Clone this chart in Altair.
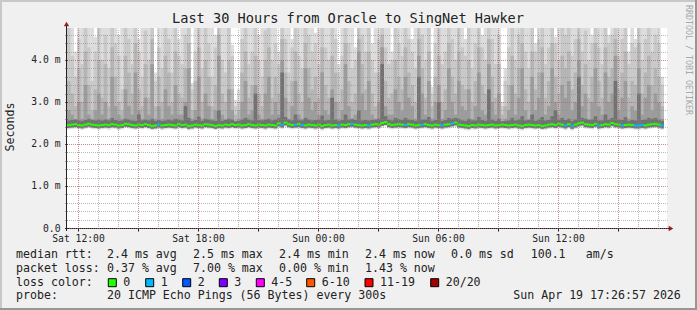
import altair as alt
import pandas as pd

# ---------------- data ----------------
start_h = 11 + 26 / 60 + 57 / 3600     # Sat 11:26:57 (hours since Sat 00:00)
step_h = 1 / 6                          # one column = 10 minutes
span_h = 30
y_top = 4.76                            # ms

median_ms = [
    2.45, 2.46, 2.47, 2.45, 2.44, 2.46, 2.48, 2.46, 2.45, 2.44,
    2.45, 2.46, 2.45, 2.47, 2.46, 2.44, 2.45, 2.48, 2.47, 2.45,
    2.44, 2.46, 2.45, 2.47, 2.45, 2.43, 2.44, 2.46, 2.44, 2.45,
    2.46, 2.45, 2.44, 2.47, 2.45, 2.46, 2.43, 2.44, 2.46, 2.45,
    2.44, 2.47, 2.46, 2.45, 2.43, 2.45, 2.44, 2.46, 2.45, 2.47,
    2.45, 2.46, 2.44, 2.45, 2.47, 2.45, 2.44, 2.46, 2.45, 2.44,
    2.46, 2.45, 2.44, 2.49, 2.46, 2.51, 2.47, 2.45, 2.46, 2.47,
    2.45, 2.44, 2.46, 2.45, 2.44, 2.46, 2.43, 2.45, 2.46, 2.44,
    2.45, 2.44, 2.46, 2.45, 2.47, 2.48, 2.46, 2.45, 2.44, 2.45,
    2.44, 2.46, 2.47, 2.46, 2.50, 2.52, 2.47, 2.45, 2.46, 2.47,
    2.46, 2.45, 2.47, 2.46, 2.44, 2.45, 2.46, 2.47, 2.45, 2.44,
    2.46, 2.45, 2.44, 2.46, 2.47, 2.49, 2.51, 2.46, 2.45, 2.44,
    2.43, 2.45, 2.44, 2.46, 2.45, 2.44, 2.45, 2.46, 2.44, 2.45,
    2.46, 2.45, 2.44, 2.45, 2.46, 2.44, 2.43, 2.45, 2.46, 2.45,
    2.44, 2.45, 2.43, 2.44, 2.46, 2.47, 2.45, 2.48, 2.46, 2.44,
    2.47, 2.43, 2.46, 2.49, 2.51, 2.47, 2.46, 2.45, 2.48, 2.44,
    2.45, 2.47, 2.46, 2.50, 2.47, 2.46, 2.44, 2.45, 2.46, 2.45,
    2.44, 2.44, 2.45, 2.44, 2.46, 2.47, 2.48, 2.46, 2.44,
]
loss_count = [
    0, 0, 0, 0, 0, 0, 0, 0, 0, 0,
    0, 0, 0, 0, 0, 0, 0, 0, 0, 0,
    0, 0, 0, 0, 0, 0, 0, 1, 0, 0,
    0, 0, 0, 0, 0, 0, 0, 0, 0, 0,
    0, 0, 0, 0, 0, 0, 0, 0, 0, 0,
    0, 0, 0, 0, 0, 0, 0, 0, 0, 0,
    0, 0, 0, 0, 1, 0, 0, 0, 1, 0,
    1, 0, 0, 0, 0, 0, 0, 0, 0, 0,
    0, 1, 0, 0, 0, 1, 0, 0, 0, 0,
    1, 0, 0, 0, 0, 0, 0, 0, 0, 0,
    0, 1, 0, 0, 0, 0, 1, 0, 0, 0,
    0, 0, 1, 0, 0, 1, 0, 0, 0, 0,
    0, 0, 0, 0, 0, 0, 0, 0, 0, 0,
    0, 0, 0, 0, 0, 0, 0, 0, 0, 0,
    0, 0, 0, 0, 0, 0, 0, 0, 0, 1,
    0, 1, 0, 0, 0, 0, 0, 0, 0, 1,
    0, 0, 0, 0, 0, 0, 1, 0, 0, 0,
    1, 1, 1, 0, 0, 0, 0, 0, 1,
]
smoke_lo = [
    2.35, 2.36, 2.37, 2.35, 2.34, 2.36, 2.38, 2.36, 2.35, 2.34,
    2.35, 2.36, 2.34, 2.37, 2.36, 2.33, 2.35, 2.38, 2.37, 2.35,
    2.34, 2.36, 2.35, 2.37, 2.35, 2.33, 2.34, 2.36, 2.33, 2.35,
    2.36, 2.35, 2.34, 2.37, 2.35, 2.36, 2.32, 2.34, 2.36, 2.35,
    2.34, 2.37, 2.36, 2.35, 2.33, 2.35, 2.34, 2.36, 2.35, 2.37,
    2.35, 2.36, 2.34, 2.35, 2.37, 2.35, 2.34, 2.36, 2.35, 2.33,
    2.36, 2.35, 2.34, 2.39, 2.36, 2.41, 2.37, 2.35, 2.36, 2.37,
    2.35, 2.34, 2.36, 2.35, 2.33, 2.36, 2.32, 2.35, 2.36, 2.34,
    2.35, 2.34, 2.36, 2.35, 2.37, 2.38, 2.36, 2.35, 2.34, 2.35,
    2.34, 2.36, 2.37, 2.36, 2.40, 2.42, 2.37, 2.35, 2.36, 2.37,
    2.36, 2.35, 2.37, 2.36, 2.34, 2.35, 2.36, 2.37, 2.35, 2.34,
    2.36, 2.35, 2.34, 2.36, 2.37, 2.39, 2.41, 2.36, 2.35, 2.33,
    2.32, 2.35, 2.34, 2.36, 2.35, 2.34, 2.35, 2.36, 2.34, 2.35,
    2.36, 2.35, 2.34, 2.35, 2.36, 2.34, 2.32, 2.35, 2.36, 2.35,
    2.34, 2.35, 2.33, 2.34, 2.36, 2.37, 2.35, 2.38, 2.36, 2.33,
    2.37, 2.32, 2.36, 2.39, 2.41, 2.37, 2.36, 2.35, 2.38, 2.34,
    2.35, 2.37, 2.36, 2.40, 2.37, 2.36, 2.34, 2.35, 2.36, 2.35,
    2.34, 2.33, 2.35, 2.34, 2.36, 2.37, 2.38, 2.36, 2.34,
]
smoke_p1 = [
    4.8, 4.8, 4.2, 4.8, 4.8, 4.8, 4.8, 4.8, 4.55, 4.8,
    4.8, 4.8, 4.8, 4.8, 4.8, 4.6, 4.8, 4.8, 4.8, 4.8,
    4.8, 4.5, 4.8, 4.8, 4.8, 4.8, 3.7, 4.8, 4.8, 4.8,
    4.8, 4.8, 4.8, 4.5, 4.8, 4.8, 4.8, 3.45, 4.8, 4.8,
    4.8, 4.8, 4.8, 4.8, 4.6, 4.8, 4.8, 4.8, 4.8, 4.36,
    3.05, 3.3, 4.8, 4.8, 4.8, 4.8, 4.8, 4.6, 4.8, 4.8,
    4.8, 4.8, 4.8, 4.2, 4.8, 4.8, 4.8, 4.5, 4.8, 4.8,
    4.8, 4.8, 4.8, 4.8, 4.65, 4.8, 4.8, 4.8, 4.8, 4.8,
    4.8, 3.9, 4.8, 4.8, 4.8, 4.8, 4.3, 4.8, 4.8, 4.8,
    4.8, 4.4, 4.8, 4.8, 4.8, 4.8, 4.8, 4.2, 4.8, 4.8,
    4.8, 4.8, 4.8, 4.5, 4.8, 4.8, 4.8, 4.8, 4.8, 3.36,
    4.8, 4.8, 4.8, 4.8, 4.8, 4.8, 4.8, 4.8, 4.8, 4.5,
    4.8, 4.8, 4.8, 4.8, 4.6, 4.8, 4.8, 4.8, 4.8, 4.8,
    3.0, 3.8, 4.8, 4.8, 4.8, 4.8, 4.8, 4.8, 4.8, 4.8,
    4.4, 4.8, 4.8, 4.8, 4.8, 4.8, 4.55, 4.8, 4.8, 4.8,
    4.8, 4.8, 4.8, 4.8, 4.8, 4.8, 4.8, 4.6, 4.8, 4.8,
    4.8, 4.8, 4.6, 4.8, 4.8, 4.8, 4.8, 4.8, 4.2, 4.8,
    4.5, 4.8, 4.8, 4.8, 4.8, 4.8, 4.8, 4.8, 3.6,
]
smoke_p2 = [
    4.8, 4.1, 3.6, 4.5, 3.9, 4.8, 4.3, 3.5, 4.2, 4.8,
    4.0, 4.6, 3.8, 4.8, 4.4, 4.1, 3.3, 4.8, 4.5, 3.9,
    4.8, 4.2, 3.6, 4.7, 4.0, 4.8, 3.5, 4.3, 3.8, 4.8,
    4.5, 3.7, 4.8, 4.1, 3.9, 4.6, 4.8, 3.3, 4.2, 4.8,
    3.8, 4.8, 4.4, 3.6, 4.3, 4.8, 4.0, 3.7, 4.8, 4.1,
    2.9, 3.0, 4.5, 4.8, 3.9, 4.2, 4.8, 4.0, 3.6, 4.7,
    4.8, 4.0, 4.4, 3.9, 4.8, 4.5, 3.7, 4.3, 4.8, 4.1,
    3.8, 4.8, 4.6, 4.2, 4.4, 3.9, 4.8, 4.3, 4.0, 4.8,
    4.5, 3.7, 4.1, 4.8, 4.4, 3.8, 4.0, 4.8, 4.6, 4.2,
    4.8, 4.0, 3.7, 4.5, 4.8, 4.3, 3.9, 4.0, 4.8, 4.4,
    4.1, 4.8, 4.5, 4.2, 3.8, 4.8, 4.6, 4.0, 4.8, 3.2,
    4.4, 4.8, 3.9, 4.2, 4.8, 4.5, 4.0, 4.8, 4.3, 4.1,
    4.8, 3.8, 4.4, 4.8, 4.3, 4.0, 4.8, 4.5, 3.9, 4.6,
    2.9, 3.5, 4.3, 4.8, 4.0, 4.6, 4.8, 4.2, 3.8, 4.8,
    4.2, 4.5, 4.8, 3.9, 4.3, 4.8, 4.4, 4.0, 4.8, 4.6,
    4.8, 4.1, 4.5, 4.8, 4.2, 4.7, 4.0, 4.4, 4.8, 4.3,
    3.9, 4.8, 4.4, 4.6, 4.8, 4.1, 4.5, 4.8, 3.9, 4.4,
    4.3, 4.8, 4.0, 4.5, 4.8, 4.2, 4.6, 4.4, 3.4,
]
smoke_p3 = [
    3.5, 3.2, 2.9, 3.8, 3.0, 4.2, 3.4, 2.8, 3.3, 4.0,
    3.1, 3.9, 2.9, 4.3, 3.6, 3.0, 2.8, 4.1, 3.7, 3.2,
    4.4, 3.3, 2.9, 3.9, 3.1, 4.5, 2.9, 3.6, 3.0, 4.1,
    3.7, 3.0, 4.2, 3.2, 3.1, 3.8, 4.4, 2.8, 3.5, 4.3,
    3.0, 4.0, 3.6, 2.9, 3.4, 4.6, 3.2, 3.0, 4.0, 3.3,
    2.7, 2.8, 3.7, 4.2, 3.1, 3.4, 4.1, 3.2, 2.9, 4.0,
    4.3, 3.1, 3.6, 3.2, 4.5, 3.7, 3.0, 3.5, 4.2, 3.2,
    3.0, 4.4, 3.8, 3.3, 3.6, 3.1, 4.3, 3.4, 3.1, 4.1,
    3.7, 3.0, 3.3, 4.4, 3.5, 3.0, 3.2, 4.5, 3.9, 3.3,
    4.2, 3.2, 2.9, 3.7, 4.6, 3.5, 3.1, 3.2, 4.0, 3.6,
    3.3, 4.3, 3.7, 3.4, 3.0, 4.5, 3.8, 3.1, 4.2, 2.9,
    3.6, 4.1, 3.0, 3.3, 4.4, 3.6, 3.2, 4.2, 3.4, 3.3,
    4.0, 3.0, 3.5, 4.3, 3.4, 3.2, 4.5, 3.6, 3.1, 3.9,
    2.7, 2.9, 3.4, 4.1, 3.2, 3.8, 4.4, 3.3, 3.0, 4.2,
    3.3, 3.7, 4.3, 3.1, 3.5, 4.4, 3.6, 3.2, 4.1, 3.8,
    4.2, 3.3, 3.7, 4.5, 3.4, 3.9, 3.1, 3.6, 4.4, 3.5,
    3.1, 4.3, 3.6, 3.8, 4.5, 3.3, 3.7, 4.2, 3.1, 3.5,
    3.4, 4.4, 3.2, 3.7, 4.1, 3.4, 3.8, 3.6, 2.9,
]
smoke_p4 = [
    2.8, 2.7, 2.6, 3.0, 2.6, 3.4, 2.7, 2.6, 2.8, 3.2,
    2.7, 3.0, 2.6, 3.6, 2.9, 2.7, 2.6, 3.3, 2.9, 2.7,
    3.7, 2.8, 2.6, 3.1, 2.7, 3.9, 2.6, 2.9, 2.6, 3.3,
    2.9, 2.7, 3.4, 2.7, 2.7, 3.0, 3.8, 2.6, 2.8, 3.6,
    2.6, 3.2, 2.9, 2.6, 2.8, 4.1, 2.7, 2.6, 3.3, 2.8,
    2.55, 2.6, 3.0, 3.5, 2.7, 2.8, 3.4, 2.7, 2.6, 3.2,
    3.6, 2.7, 3.0, 2.7, 4.0, 3.1, 2.6, 2.9, 3.5, 2.7,
    2.6, 3.8, 3.1, 2.8, 3.0, 2.7, 3.7, 2.8, 2.7, 3.3,
    3.0, 2.6, 2.8, 3.9, 2.9, 2.6, 2.7, 4.2, 3.2, 2.8,
    3.5, 2.7, 2.6, 3.0, 4.3, 2.9, 2.7, 2.7, 3.3, 3.0,
    2.8, 3.6, 3.1, 2.9, 2.6, 4.1, 3.2, 2.7, 3.5, 2.6,
    3.0, 3.4, 2.6, 2.8, 3.8, 3.0, 2.7, 3.5, 2.9, 2.8,
    3.3, 2.6, 2.9, 3.7, 2.8, 2.7, 3.9, 3.0, 2.7, 3.2,
    2.55, 2.6, 2.8, 3.4, 2.7, 3.1, 3.8, 2.8, 2.6, 3.6,
    2.8, 3.1, 3.7, 2.7, 2.9, 3.8, 3.0, 2.7, 3.4, 3.1,
    3.5, 2.8, 3.0, 4.0, 2.9, 3.2, 2.6, 3.0, 3.8, 2.9,
    2.7, 3.7, 3.0, 3.2, 4.1, 2.8, 3.1, 3.5, 2.6, 2.9,
    2.8, 3.8, 2.7, 3.1, 3.4, 2.8, 3.2, 3.0, 2.6,
]
smoke_p5 = [
    2.56, 2.57, 2.58, 2.56, 2.55, 2.57, 2.60, 2.57, 2.56, 2.58,
    2.56, 2.58, 2.56, 2.62, 2.57, 2.55, 2.56, 2.60, 2.58, 2.56,
    2.55, 2.70, 2.56, 2.58, 2.56, 2.60, 2.55, 2.57, 2.55, 2.56,
    2.58, 2.56, 2.60, 2.58, 2.56, 2.90, 2.62, 2.55, 2.57, 2.65,
    2.55, 2.60, 2.58, 2.56, 2.55, 2.80, 2.55, 2.57, 2.60, 2.58,
    2.54, 2.55, 2.58, 2.62, 2.58, 2.56, 3.20, 2.57, 2.56, 2.58,
    2.60, 2.56, 2.58, 2.62, 3.70, 2.64, 2.58, 2.56, 2.70, 2.58,
    2.56, 2.62, 2.58, 2.56, 2.57, 2.58, 2.68, 2.56, 2.57, 3.10,
    2.58, 2.55, 2.57, 2.70, 2.58, 2.60, 2.57, 2.80, 2.56, 2.57,
    2.56, 2.57, 2.58, 2.60, 3.90, 2.66, 2.58, 2.56, 2.62, 2.59,
    2.57, 2.62, 2.58, 2.57, 2.55, 3.60, 2.58, 2.58, 2.64, 2.55,
    2.57, 3.00, 2.55, 2.57, 2.62, 2.60, 2.62, 2.60, 2.56, 2.55,
    2.60, 2.56, 2.56, 2.64, 2.57, 2.55, 3.30, 2.58, 2.55, 2.60,
    2.54, 2.55, 2.56, 2.62, 2.56, 2.58, 2.66, 2.56, 2.57, 2.70,
    2.55, 2.58, 2.64, 2.56, 2.57, 2.66, 2.80, 2.58, 2.62, 2.57,
    2.60, 2.54, 2.58, 3.60, 2.62, 2.60, 2.57, 2.58, 2.66, 2.56,
    2.56, 2.70, 2.58, 2.62, 3.50, 2.58, 2.57, 2.64, 2.55, 2.57,
    2.56, 3.20, 2.57, 2.58, 2.62, 2.60, 2.62, 2.58, 2.55,
]

loss_labels = ["0", "1", "2", "3", "4-5", "6-10", "11-19", "20/20"]
loss_colors = ["#26ff00", "#00b8ff", "#0059ff", "#7e00ff", "#ff00ff", "#ff5500", "#ff0000", "#a10000"]

rtt_stats = ["2.4 ms avg", "2.5 ms max", "2.4 ms min", "2.4 ms now", "0.0 ms sd", "100.1", "am/s"]
loss_stats = ["0.37 % avg", "7.00 % max", "0.00 % min", "1.43 % now"]
probe_text = "20 ICMP Echo Pings (56 Bytes) every 300s"
stamp_text = "Sun Apr 19 17:26:57 2026"
title_text = "Last 30 Hours from Oracle to SingNet Hawker"

x_major_hours = list(range(12, 42, 3))
x_minor_hours = list(range(12, 42))
y_major = [0, 1, 2, 3, 4]
y_minor = [round(0.2 * k, 1) for k in range(24)]

# ---------------- table ----------------
n = len(median_ms)
df = pd.DataFrame({
    "t0": [start_h + i * step_h for i in range(n)],
    "median": median_ms,
    "loss": loss_count,
    "lo": smoke_lo,
    "p1": smoke_p1,
    "p2": smoke_p2,
    "p3": smoke_p3,
    "p4": smoke_p4,
    "p5": smoke_p5,
})
df["t1"] = df["t0"] + step_h * 1.09      # slight overlap hides anti-alias seams
df["mid_lo"] = df["median"] - 0.04
df["dark_lo"] = df["median"] - 0.07

W, H = 600, 200
MONO = "DejaVu Sans Mono"
TXT = "#222222"

x_scale = alt.Scale(domain=[start_h, start_h + span_h], nice=False, zero=False)
y_scale = alt.Scale(domain=[0, y_top], nice=False, zero=True)

x_label_expr = ("datum.value % 6 != 0 ? '' : (datum.value < 24 ? 'Sat ' : 'Sun ') + "
                "((datum.value % 24) < 10 ? '0' : '') + (datum.value % 24) + ':00'")
y_label_expr = "datum.value == 0 ? '0.0' : format(datum.value, '.1f') + ' m'"

grid_common = dict(grid=True, gridDash=[1, 1], gridDashOffset=0.5, domain=False, title=None, zindex=1)

ax_x_minor = alt.Axis(values=x_minor_hours, orient="bottom", gridColor="#8c8c8c", gridOpacity=0.6,
                      labels=False, ticks=False, **grid_common)
ax_y_minor = alt.Axis(values=y_minor, orient="left", gridColor="#8c8c8c", gridOpacity=0.6,
                      labels=False, ticks=True, tickSize=2, tickColor="#444444", **grid_common)
ax_x_major = alt.Axis(values=x_major_hours, orient="bottom", gridColor="#cc4444", gridOpacity=0.38,
                      labelExpr=x_label_expr, ticks=True, tickSize=3, tickColor="#222222",
                      labelFont=MONO, labelFontSize=9.7, labelColor=TXT, labelPadding=2,
                      labelBaseline="top", labelAlign="center", **grid_common)
ax_y_major = alt.Axis(values=y_major, orient="left", gridColor="#cc4444", gridOpacity=0.38,
                      labelExpr=y_label_expr, ticks=True, tickSize=2, tickColor="#222222",
                      labelFont=MONO, labelFontSize=9.7, labelColor=TXT, labelPadding=5,
                      labelBaseline="middle", **grid_common)

base = alt.Chart(df)


def band(lo, hi, color, xaxis=None, yaxis=None):
    return base.mark_rect(color=color, clip=True).encode(
        x=alt.X("t0:Q", scale=x_scale, axis=xaxis),
        x2="t1:Q",
        y=alt.Y(f"{lo}:Q", scale=y_scale, axis=yaxis),
        y2=f"{hi}:Q",
    )


smoke1 = band("lo", "p1", "#dcdcdc", ax_x_minor, ax_y_minor)
smoke2 = band("mid_lo", "p2", "#c9c9c9", ax_x_major, ax_y_major)
smoke3 = band("mid_lo", "p3", "#b5b5b5")
smoke4 = band("mid_lo", "p4", "#9c9c9c")
smoke5 = band("dark_lo", "p5", "#727272")

median_line = base.mark_rule(strokeWidth=2, clip=True).encode(
    x=alt.X("t0:Q", scale=x_scale, axis=None),
    x2="t1:Q",
    y=alt.Y("median:Q", scale=y_scale, axis=None),
    color=alt.Color("loss:O", scale=alt.Scale(domain=[0, 1, 2, 3], range=loss_colors[:4]), legend=None),
)

one = pd.DataFrame({"k": [0]})


def txt(s, x, y, size=11.6, color=TXT, align="left", angle=0, baseline="middle"):
    return alt.Chart(one).mark_text(text=s, font=MONO, fontSize=size, color=color, align=align,
                                    baseline=baseline, angle=angle).encode(
        x=alt.value(x), y=alt.value(y))


def box(x0, x1, y0, y1, color, stroke=None):
    kw = dict(color=color)
    if stroke:
        kw.update(stroke=stroke, strokeWidth=1)
    return alt.Chart(one).mark_rect(**kw).encode(
        x=alt.value(x0), x2=alt.value(x1), y=alt.value(y0), y2=alt.value(y1))


OX, OY = 67, 28   # plot origin in page pixels

layers = [smoke1, smoke2, smoke3, smoke4, smoke5, median_line]

# axis lines + arrows
layers.append(alt.Chart(one).mark_rule(color="#222222", strokeWidth=1).encode(
    x=alt.value(-2), x2=alt.value(603), y=alt.value(200.5)))
layers.append(alt.Chart(one).mark_rule(color="#222222", strokeWidth=1).encode(
    x=alt.value(-0.5), y=alt.value(203), y2=alt.value(-4)))
layers.append(alt.Chart(one).mark_point(shape="triangle-right", filled=True, size=28,
                                        color="#961e1e", opacity=1).encode(
    x=alt.value(604), y=alt.value(200.5)))
layers.append(alt.Chart(one).mark_point(shape="triangle-up", filled=True, size=28,
                                        color="#961e1e", opacity=1).encode(
    x=alt.value(-0.5), y=alt.value(-4)))

# title, axis title, watermark
layers.append(txt(title_text, 348 - OX, 19 - OY, size=13.6, align="center"))
layers.append(txt("Seconds", 11 - OX, 127 - OY, angle=270, align="center"))
layers.append(txt("RRDTOOL / TOBI OETIKER", 688 - OX, 60 - OY, size=8.3, color="#a8a8a8",
                  angle=90, align="center"))

# legend rows
r1, r2, r3, r4 = 255 - OY, 268.5 - OY, 282.7 - OY, 296 - OY
layers.append(txt("median rtt:", 16 - OX, r1))
for s, x in zip(rtt_stats, [107, 193, 279, 365, 451, 530.7, 585.7]):
    layers.append(txt(s, x - OX, r1))
layers.append(txt("packet loss:", 16 - OX, r2))
for s, x in zip(loss_stats, [107, 193, 279, 365]):
    layers.append(txt(s, x - OX, r2))
layers.append(txt("loss color:", 16 - OX, r3))
box_x = [108.3, 145.7, 182.7, 219.3, 256.3, 306.7, 365, 430.7]
for lab, col, bx in zip(loss_labels, loss_colors, box_x):
    layers.append(box(bx - OX, bx + 8 - OX, r3 - 4, r3 + 4, col, stroke="#000000"))
    layers.append(txt(lab, bx + 15 - OX, r3))
layers.append(txt("probe:", 16 - OX, r4))
layers.append(txt(probe_text, 107 - OX, r4))
layers.append(txt(stamp_text, 513.3 - OX, r4))

# 3D frame
layers.append(box(-OX, 630, -OY, -OY + 2, "#c8c8c8"))
layers.append(box(-OX, -OX + 2, -OY, 282, "#c8c8c8"))
layers.append(box(-OX, 630, 280, 282, "#969696"))
layers.append(box(628, 630, -OY, 282, "#969696"))

chart = alt.layer(*layers).resolve_scale(x="shared", y="shared").resolve_axis(
    x="independent", y="independent"
).properties(
    width=W, height=H,
    autosize=alt.AutoSizeParams(type="none"),
    padding={"left": OX, "top": OY, "right": 30, "bottom": 82},
    background="#f0f0f0",
).configure_view(stroke=None, fill="#ffffff")

chart.save("out.html", embed_options={"renderer": "svg", "actions": False})
